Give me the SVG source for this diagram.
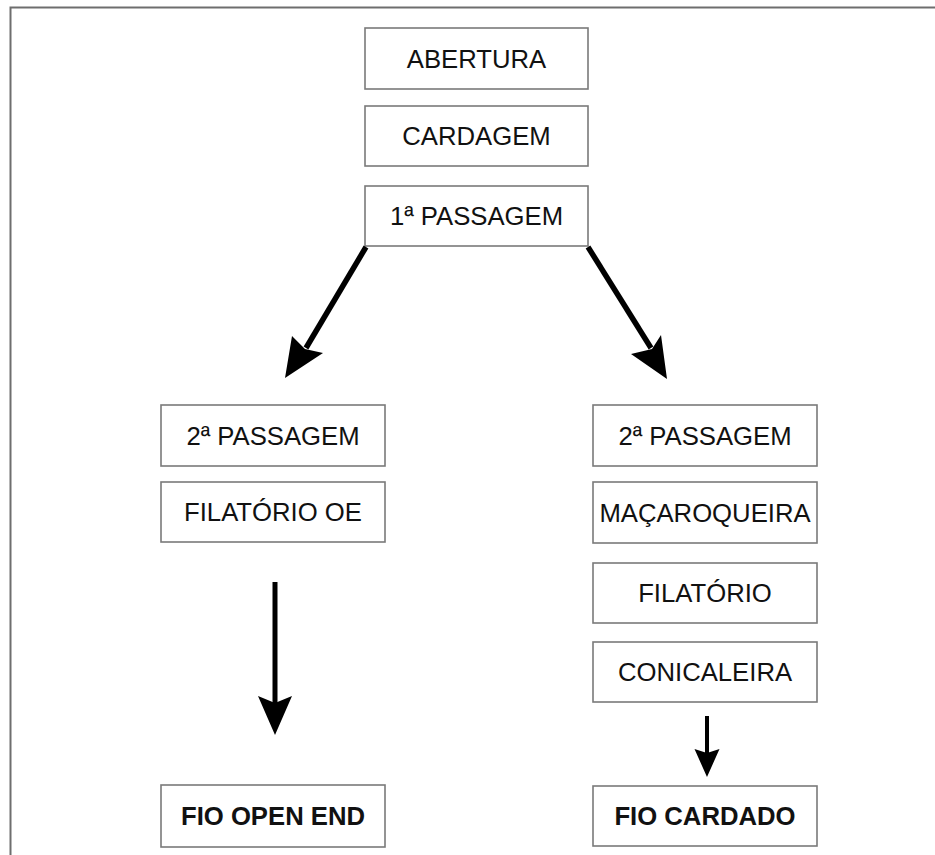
<svg xmlns="http://www.w3.org/2000/svg" width="935" height="855" viewBox="0 0 935 855">
<style>
.box{fill:#fff;stroke:#7a7a7a;stroke-width:1.6}
.t{font-family:"Liberation Sans",Arial,sans-serif;font-size:25.7px;fill:#111;text-anchor:middle}
.b{font-weight:bold}
.shaft{stroke:#000;fill:none}
.head{fill:#000}
.frame{stroke:#6e6e6e;stroke-width:2;fill:none}
</style>
<rect width="935" height="855" fill="#fff"/>
<path class="frame" d="M10.5 855 V7.5 H935"/>
<g id="abertura"><rect class="box" x="365" y="28" width="223" height="61"/><text class="t" x="476.5" y="67.5">ABERTURA</text></g>
<g id="cardagem"><rect class="box" x="365" y="106" width="223" height="60"/><text class="t" x="476.5" y="145">CARDAGEM</text></g>
<g id="passagem1"><rect class="box" x="365" y="186" width="223" height="60"/><text class="t" x="476.5" y="225">1ª PASSAGEM</text></g>
<g id="passagem2-oe"><rect class="box" x="161" y="405" width="224" height="61"/><text class="t" x="273" y="444.5">2ª PASSAGEM</text></g>
<g id="filatorio-oe"><rect class="box" x="161" y="482" width="224" height="60"/><text class="t" x="273" y="521">FILATÓRIO OE</text></g>
<g id="fio-open-end"><rect class="box" x="161" y="785" width="224" height="62"/><text class="t b" x="273" y="825">FIO OPEN END</text></g>
<g id="passagem2-c"><rect class="box" x="593" y="405" width="224" height="61"/><text class="t" x="705" y="444.5">2ª PASSAGEM</text></g>
<g id="macaroqueira"><rect class="box" x="593" y="482" width="224" height="61"/><text class="t" x="705" y="521.5">MAÇAROQUEIRA</text></g>
<g id="filatorio"><rect class="box" x="593" y="563" width="224" height="60"/><text class="t" x="705" y="602">FILATÓRIO</text></g>
<g id="conicaleira"><rect class="box" x="593" y="642" width="224" height="60"/><text class="t" x="705" y="681">CONICALEIRA</text></g>
<g id="fio-cardado"><rect class="box" x="593" y="786" width="224" height="60"/><text class="t b" x="705" y="825">FIO CARDADO</text></g>
<g id="connectors">
<path class="shaft" stroke-width="5.5" d="M366 247 L306 348"/>
<path class="head" d="M285 378 L292 336 L305 349 L323 353 Z"/>
<path class="shaft" stroke-width="5.5" d="M588 247 L651 348"/>
<path class="head" d="M667 379 L661 335 L652 349 L631 354 Z"/>
<path class="shaft" stroke-width="5" d="M275 582 V705"/>
<path class="head" d="M275 735 L258 696 L275 703 L292 696 Z"/>
<path class="shaft" stroke-width="4" d="M707 716 V755"/>
<path class="head" d="M707 777 L694.5 749 L707 753 L719.5 749 Z"/>
</g>
</svg>
